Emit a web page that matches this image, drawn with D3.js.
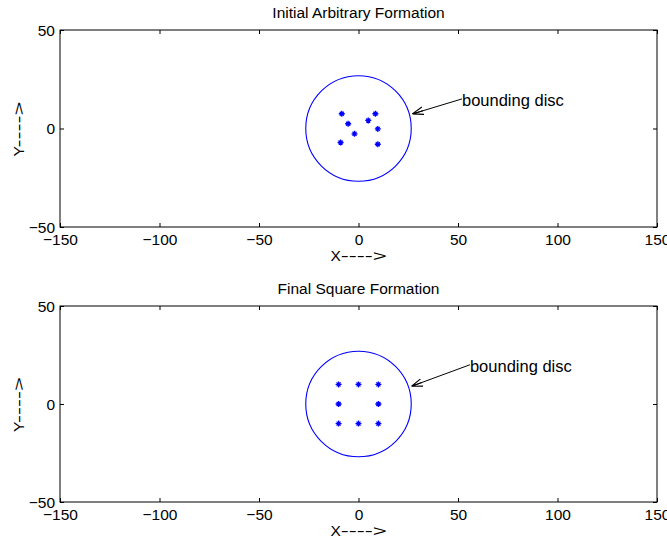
<!DOCTYPE html>
<html><head><meta charset="utf-8">
<script src="https://cdn.jsdelivr.net/npm/d3@7"></script>
<style>body{margin:0;background:#fff;} text{font-family:"Liberation Sans",Arial,sans-serif;}</style>
</head><body>
<svg id="c" width="667" height="544"></svg>
<script>
const xTicks = [-150, -100, -50, 0, 50, 100, 150];
const yTicks = [-50, 0, 50];
const titles = ["Initial Arbitrary Formation", "Final Square Formation"];
const initialX = [-8.4, 8.5, -5.2, 4.9, 9.7, -2, -9, 9.7];
const initialY = [7.5, 7.5, 2.4, 4.1, -0.2, -2.7, -7.1, -8];
const finalX = [-10, 0, 10, -10, 10, -10, 0, 10];
const finalY = [10, 10, 10, 0, 0, -10, -10, -10];
const discRadius = [26.5, 26.5];
const annotation = "bounding disc";
const annotTextXY = [[52, 14], [56, 19]];

const svg = d3.select("#c");
const panels = [
  {top: 30, bottom: 227, xs: initialX, ys: initialY, ann: annotTextXY[0], r: discRadius[0]},
  {top: 306, bottom: 502, xs: finalX, ys: finalY, ann: annotTextXY[1], r: discRadius[1]}
];
const left = 60, right = 657;
const blue = "#0000ff";
const fmt = d => d < 0 ? "\u2212" + Math.abs(d) : d;

svg.append("defs").append("marker").attr("id","ah").attr("viewBox","0 0 10 10")
  .attr("refX",10).attr("refY",5).attr("markerWidth",11).attr("markerHeight",11)
  .attr("markerUnits","userSpaceOnUse").attr("orient","auto")
  .append("path").attr("d","M0,1.5 L10,5 L0,8.5 M10,5 L0,5").attr("fill","none").attr("stroke","#000").attr("stroke-width",1);

function arrowLabel(sel, letter) {
  sel.append("tspan").text(letter);
  sel.append("tspan").attr("textLength", 46).attr("lengthAdjust", "spacingAndGlyphs").text("---->");
}

panels.forEach((p, i) => {
  const x = d3.scaleLinear().domain([-150, 150]).range([left, right]);
  const y = d3.scaleLinear().domain([-50, 50]).range([p.bottom, p.top]);
  const g = svg.append("g");
  g.append("rect").attr("x", left).attr("y", p.top).attr("width", right-left).attr("height", p.bottom-p.top)
    .attr("fill","none").attr("stroke","#000").attr("stroke-width",1);
  const tl = 4;
  const gx = g.append("g").attr("transform", `translate(0,${p.bottom})`)
    .call(d3.axisBottom(x).tickValues(xTicks).tickSize(-tl).tickFormat(fmt));
  g.append("g").attr("transform", `translate(0,${p.top})`)
    .call(d3.axisTop(x).tickValues(xTicks).tickSize(-tl).tickFormat(""));
  const gy = g.append("g").attr("transform", `translate(${left},0)`)
    .call(d3.axisLeft(y).tickValues(yTicks).tickSize(-tl).tickFormat(fmt));
  g.append("g").attr("transform", `translate(${right},0)`)
    .call(d3.axisRight(y).tickValues(yTicks).tickSize(-tl).tickFormat(""));
  g.selectAll(".domain").remove();
  g.selectAll(".tick line").attr("stroke","#000");
  g.selectAll(".tick text").attr("font-size", 15.5).attr("fill","#000").attr("font-family","Liberation Sans, Arial, sans-serif");
  gx.selectAll(".tick text").attr("y", 18).attr("dy", 0);
  gy.selectAll(".tick text").attr("x", -5).attr("dy", "0.35em");

  g.append("text").attr("x", x(0)).attr("y", p.top - 12).attr("text-anchor","middle").attr("font-size",15.5).text(titles[i]);
  g.append("text").attr("x", x(0) - 28).attr("y", p.bottom + 34).attr("font-size",15.5).call(arrowLabel, "X");
  g.append("text").attr("transform", `translate(24,${y(0) + 28}) rotate(-90)`).attr("font-size",15.5).call(arrowLabel, "Y");

  const k = (x(1) - x(0));
  g.append("circle").attr("cx", x(0)).attr("cy", y(0)).attr("r", p.r * k)
    .attr("fill","none").attr("stroke",blue).attr("stroke-width",1.1);

  const pts = p.xs.map((v, j) => [v, p.ys[j]]);
  const s = 3;
  g.selectAll(".pt").data(pts).enter().append("path")
    .attr("transform", d => `translate(${x(d[0])},${y(d[1])})`)
    .attr("d", `M${-s},0L${s},0M0,${-s}L0,${s}M-2,-2L2,2M-2,2L2,-2`)
    .attr("stroke", blue).attr("stroke-width", 1.3).attr("fill","none");

  const tx = x(p.ann[0]), ty = y(p.ann[1]);
  const ang = Math.atan2(y(p.ann[1]) - y(0), x(p.ann[0]) - x(0));
  const ex = x(0) + p.r * k * Math.cos(ang) + 3, ey = y(0) + p.r * k * Math.sin(ang) - 1;
  g.append("line").attr("x1", tx).attr("y1", ty - 2).attr("x2", ex).attr("y2", ey)
    .attr("stroke","#000").attr("stroke-width",1).attr("marker-end","url(#ah)");
  g.append("text").attr("x", tx).attr("y", ty + 5).attr("font-size",16.5).text(annotation);
});
</script>
</body></html>
